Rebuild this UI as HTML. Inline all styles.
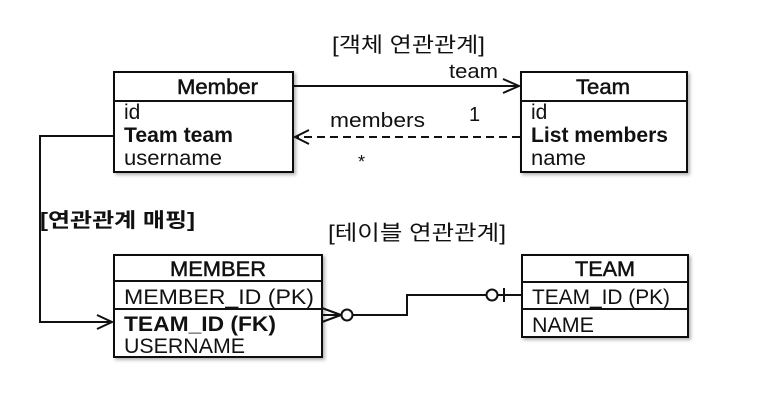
<!DOCTYPE html>
<html><head><meta charset="utf-8"><style>
html,body{margin:0;padding:0;background:#fff;}
svg{display:block;}
text{font-family:"Liberation Sans","Noto Sans CJK KR",sans-serif;fill:#111;}
.h{stroke:#111;stroke-width:0.5;}
</style></head><body>
<svg width="757" height="409" viewBox="0 0 757 409" xmlns="http://www.w3.org/2000/svg">
<defs>
<filter id="sh" x="-5%" y="-5%" width="115%" height="115%"><feDropShadow dx="2" dy="2" stdDeviation="1.5" flood-color="#000" flood-opacity="0.3"/></filter>
</defs>
<text x="332" y="52" font-size="21" textLength="153" lengthAdjust="spacingAndGlyphs">[객체 연관관계]</text>

<!-- Member -->
<rect x="114" y="72" width="179" height="100" fill="#fff" stroke="#111" stroke-width="2" filter="url(#sh)"/>
<line x1="114" y1="101" x2="293" y2="101" stroke="#111" stroke-width="2"/>
<text class="h" x="177" y="94" font-size="21" textLength="81" lengthAdjust="spacingAndGlyphs">Member</text>
<text x="124" y="119" font-size="21" fill="#333">id</text>
<text x="124" y="142" font-size="21" font-weight="bold" textLength="109" lengthAdjust="spacingAndGlyphs">Team team</text>
<text x="124" y="165" font-size="21" fill="#333" textLength="98" lengthAdjust="spacingAndGlyphs">username</text>

<!-- Team -->
<rect x="521" y="72" width="166" height="100" fill="#fff" stroke="#111" stroke-width="2" filter="url(#sh)"/>
<line x1="521" y1="101" x2="687" y2="101" stroke="#111" stroke-width="2"/>
<text class="h" x="576" y="94" font-size="21" textLength="54" lengthAdjust="spacingAndGlyphs">Team</text>
<text x="531" y="119" font-size="21" fill="#333">id</text>
<text x="531" y="142" font-size="21" font-weight="bold" textLength="137" lengthAdjust="spacingAndGlyphs">List members</text>
<text x="531" y="165" font-size="21" fill="#333" textLength="55" lengthAdjust="spacingAndGlyphs">name</text>

<!-- team arrow -->
<line x1="293" y1="86" x2="518" y2="86" stroke="#111" stroke-width="2"/>
<path d="M503,79 L519,86 L503,93" fill="none" stroke="#111" stroke-width="2"/>
<text x="449" y="78" font-size="20" fill="#333" textLength="49" lengthAdjust="spacingAndGlyphs">team</text>
<text x="469" y="121" font-size="20" fill="#333">1</text>
<!-- members dashed -->
<line x1="520" y1="137" x2="296" y2="137" stroke="#111" stroke-width="2" stroke-dasharray="8,5"/>
<path d="M309,130 L295,137 L309,144" fill="none" stroke="#111" stroke-width="2"/>
<text x="330" y="127" font-size="20" fill="#333" textLength="95" lengthAdjust="spacingAndGlyphs">members</text>
<text x="358" y="168" font-size="18" fill="#333">*</text>

<!-- left mapping connector -->
<path d="M114,136 L40,136 L40,322 L112,322" fill="none" stroke="#111" stroke-width="2"/>
<path d="M97,315 L112,322 L97,329" fill="none" stroke="#111" stroke-width="2"/>
<text x="40" y="227" font-size="20" font-weight="bold" textLength="155" lengthAdjust="spacingAndGlyphs">[연관관계 매핑]</text>
<text x="328" y="240" font-size="21" textLength="178" lengthAdjust="spacingAndGlyphs">[테이블 연관관계]</text>

<!-- MEMBER table -->
<rect x="114" y="255" width="208" height="102" fill="#fff" stroke="#111" stroke-width="2" filter="url(#sh)"/>
<line x1="114" y1="281" x2="322" y2="281" stroke="#111" stroke-width="2"/>
<line x1="114" y1="309" x2="322" y2="309" stroke="#111" stroke-width="2"/>
<text class="h" x="218" y="276" font-size="21" text-anchor="middle" textLength="96" lengthAdjust="spacingAndGlyphs">MEMBER</text>
<text x="124" y="304" font-size="21" fill="#333" textLength="190" lengthAdjust="spacingAndGlyphs">MEMBER_ID (PK)</text>
<text x="124" y="331" font-size="21" font-weight="bold" textLength="152" lengthAdjust="spacingAndGlyphs">TEAM_ID (FK)</text>
<text x="124" y="353" font-size="21" fill="#333" textLength="121" lengthAdjust="spacingAndGlyphs">USERNAME</text>

<!-- TEAM table -->
<rect x="522" y="255" width="166" height="82" fill="#fff" stroke="#111" stroke-width="2" filter="url(#sh)"/>
<line x1="522" y1="282" x2="688" y2="282" stroke="#111" stroke-width="2"/>
<line x1="522" y1="309" x2="688" y2="309" stroke="#111" stroke-width="2"/>
<text class="h" x="605" y="276" font-size="21" text-anchor="middle" textLength="60" lengthAdjust="spacingAndGlyphs">TEAM</text>
<text x="532" y="304" font-size="21" fill="#333" textLength="138" lengthAdjust="spacingAndGlyphs">TEAM_ID (PK)</text>
<text x="532" y="332" font-size="21" fill="#333" textLength="62" lengthAdjust="spacingAndGlyphs">NAME</text>

<!-- ER connector -->
<path d="M322,308 L341,315 M322,322 L341,315 M322,315 L341,315" fill="none" stroke="#111" stroke-width="2"/>
<circle cx="347" cy="315" r="5.5" fill="#fff" stroke="#111" stroke-width="2"/>
<path d="M353,315 L407,315 L407,295 L486,295" fill="none" stroke="#111" stroke-width="2"/>
<circle cx="492" cy="295" r="5.5" fill="#fff" stroke="#111" stroke-width="2"/>
<path d="M498,295 L522,295 M504,288 L504,302" fill="none" stroke="#111" stroke-width="2"/>
</svg>
</body></html>
